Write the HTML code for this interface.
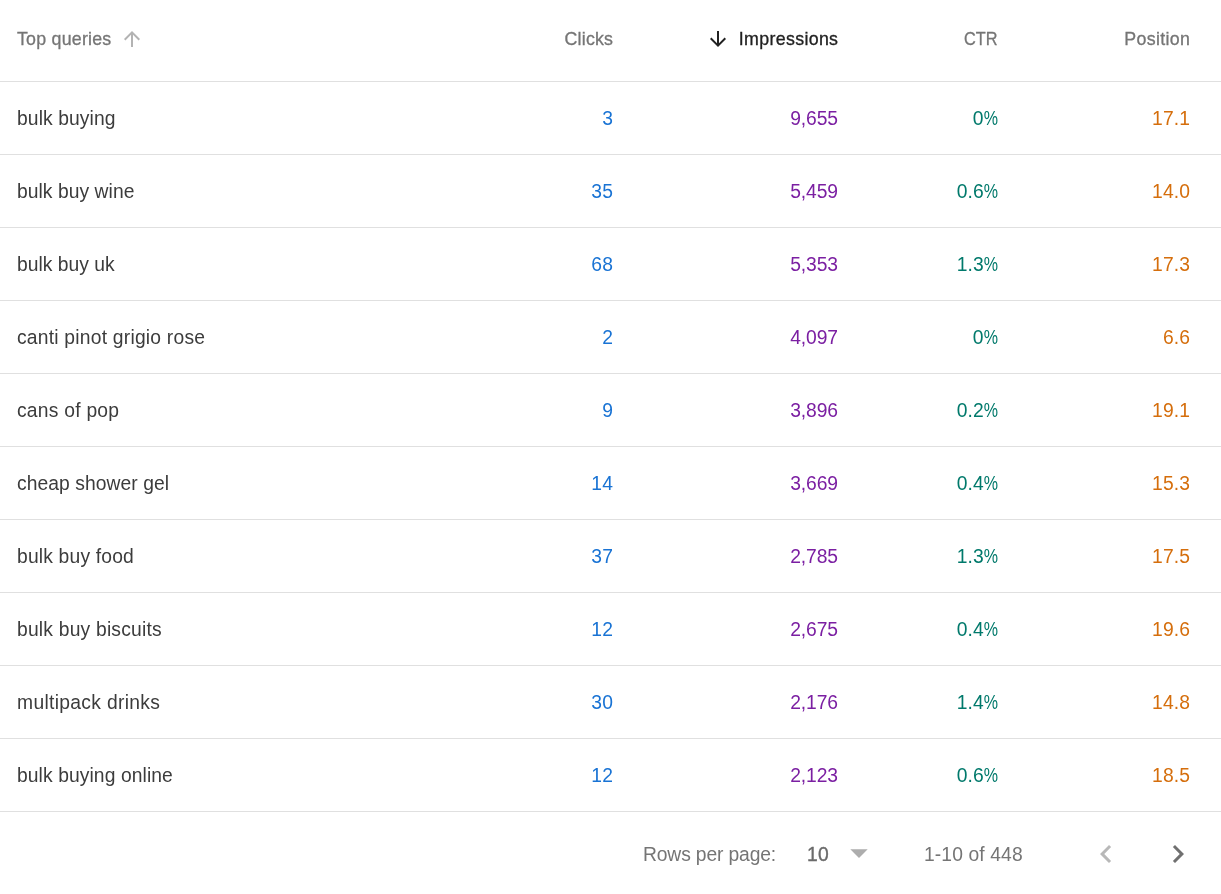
<!DOCTYPE html>
<html><head><meta charset="utf-8"><title>Top queries</title>
<style>
html,body{margin:0;padding:0;background:#fff;}
body{width:1221px;height:894px;overflow:hidden;position:relative;font-family:"Liberation Sans",sans-serif;}
.row{position:absolute;left:0;width:1221px;height:73px;border-bottom:1px solid #e0e0e0;box-sizing:border-box;}
.hdr{top:0;height:82px;}
.c{position:absolute;white-space:nowrap;line-height:24px;}
.q{left:17px;font-size:19.3px;color:#3c3c3c;top:25px;}
.n{font-size:19.3px;top:25px;text-align:right;}
.k{right:608px;color:#1973d4;}
.i{right:383px;color:#7b1fa2;}
.t{right:223px;color:#00796b;}
.p{right:31px;color:#d56e0c;}
.h{font-size:17.8px;color:#757575;top:27px;-webkit-text-stroke:0.3px currentColor;}
.foot{position:absolute;top:843px;font-size:19.3px;color:#757575;line-height:24px;white-space:nowrap;}
svg{position:absolute;}
.pc{display:inline-block;transform:scaleX(0.833);transform-origin:100% 50%;margin-left:-2.86px;}
</style></head><body>
<div class="row hdr">
 <div class="c h" style="left:17px;letter-spacing:0.229px;">Top queries</div>
 <svg style="left:120px;top:27px" width="24" height="24" viewBox="0 0 24 24"><path d="M4 12l1.41 1.41L11 7.83V20h2V7.83l5.58 5.59L20 12l-8-8-8 8z" fill="#b3b3b3"/></svg>
 <div class="c h" style="right:608px;letter-spacing:0.211px;margin-right:-0.211px;">Clicks</div>
 <svg style="left:706px;top:27px" width="24" height="24" viewBox="0 0 24 24"><path d="M20 12l-1.41-1.41L13 16.170V4h-2v12.170l-5.580-5.590L4 12l8 8 8-8z" fill="#212121"/></svg>
 <div class="c h" style="right:383px;color:#212121;letter-spacing:0.331px;margin-right:-0.331px;">Impressions</div>
 <div class="c h" style="right:223px;transform:scaleX(0.918);transform-origin:100% 50%;">CTR</div>
 <div class="c h" style="right:31px;letter-spacing:0.363px;margin-right:-0.363px;">Position</div>
</div>
<div class="row" style="top:82px"><div class="c q" style="letter-spacing:0.092px;">bulk buying</div><div class="c n k" style="letter-spacing:0.234px;margin-right:-0.234px;">3</div><div class="c n i" style="letter-spacing:-0.116px;margin-right:0.116px;">9,655</div><div class="c n t"><span style="letter-spacing:0.234px">0</span><span class="pc">%</span></div><div class="c n p" style="letter-spacing:0.125px;margin-right:-0.125px;">17.1</div></div>
<div class="row" style="top:155px"><div class="c q" style="letter-spacing:0.047px;">bulk buy wine</div><div class="c n k" style="letter-spacing:0.234px;margin-right:-0.234px;">35</div><div class="c n i" style="letter-spacing:-0.116px;margin-right:0.116px;">5,459</div><div class="c n t"><span style="letter-spacing:0.083px">0.6</span><span class="pc">%</span></div><div class="c n p" style="letter-spacing:0.125px;margin-right:-0.125px;">14.0</div></div>
<div class="row" style="top:228px"><div class="c q" style="letter-spacing:0.001px;">bulk buy uk</div><div class="c n k" style="letter-spacing:0.234px;margin-right:-0.234px;">68</div><div class="c n i" style="letter-spacing:-0.116px;margin-right:0.116px;">5,353</div><div class="c n t"><span style="letter-spacing:0.083px">1.3</span><span class="pc">%</span></div><div class="c n p" style="letter-spacing:0.125px;margin-right:-0.125px;">17.3</div></div>
<div class="row" style="top:301px"><div class="c q" style="letter-spacing:0.215px;">canti pinot grigio rose</div><div class="c n k" style="letter-spacing:0.234px;margin-right:-0.234px;">2</div><div class="c n i" style="letter-spacing:-0.116px;margin-right:0.116px;">4,097</div><div class="c n t"><span style="letter-spacing:0.234px">0</span><span class="pc">%</span></div><div class="c n p" style="letter-spacing:0.083px;margin-right:-0.083px;">6.6</div></div>
<div class="row" style="top:374px"><div class="c q" style="letter-spacing:0.232px;">cans of pop</div><div class="c n k" style="letter-spacing:0.234px;margin-right:-0.234px;">9</div><div class="c n i" style="letter-spacing:-0.116px;margin-right:0.116px;">3,896</div><div class="c n t"><span style="letter-spacing:0.083px">0.2</span><span class="pc">%</span></div><div class="c n p" style="letter-spacing:0.125px;margin-right:-0.125px;">19.1</div></div>
<div class="row" style="top:447px"><div class="c q" style="letter-spacing:0.059px;">cheap shower gel</div><div class="c n k" style="letter-spacing:0.234px;margin-right:-0.234px;">14</div><div class="c n i" style="letter-spacing:-0.116px;margin-right:0.116px;">3,669</div><div class="c n t"><span style="letter-spacing:0.083px">0.4</span><span class="pc">%</span></div><div class="c n p" style="letter-spacing:0.125px;margin-right:-0.125px;">15.3</div></div>
<div class="row" style="top:520px"><div class="c q" style="letter-spacing:0.173px;">bulk buy food</div><div class="c n k" style="letter-spacing:0.234px;margin-right:-0.234px;">37</div><div class="c n i" style="letter-spacing:-0.116px;margin-right:0.116px;">2,785</div><div class="c n t"><span style="letter-spacing:0.083px">1.3</span><span class="pc">%</span></div><div class="c n p" style="letter-spacing:0.125px;margin-right:-0.125px;">17.5</div></div>
<div class="row" style="top:593px"><div class="c q" style="letter-spacing:0.198px;">bulk buy biscuits</div><div class="c n k" style="letter-spacing:0.234px;margin-right:-0.234px;">12</div><div class="c n i" style="letter-spacing:-0.116px;margin-right:0.116px;">2,675</div><div class="c n t"><span style="letter-spacing:0.083px">0.4</span><span class="pc">%</span></div><div class="c n p" style="letter-spacing:0.125px;margin-right:-0.125px;">19.6</div></div>
<div class="row" style="top:666px"><div class="c q" style="letter-spacing:0.314px;">multipack drinks</div><div class="c n k" style="letter-spacing:0.234px;margin-right:-0.234px;">30</div><div class="c n i" style="letter-spacing:-0.116px;margin-right:0.116px;">2,176</div><div class="c n t"><span style="letter-spacing:0.083px">1.4</span><span class="pc">%</span></div><div class="c n p" style="letter-spacing:0.125px;margin-right:-0.125px;">14.8</div></div>
<div class="row" style="top:739px"><div class="c q" style="letter-spacing:0.083px;">bulk buying online</div><div class="c n k" style="letter-spacing:0.234px;margin-right:-0.234px;">12</div><div class="c n i" style="letter-spacing:-0.116px;margin-right:0.116px;">2,123</div><div class="c n t"><span style="letter-spacing:0.083px">0.6</span><span class="pc">%</span></div><div class="c n p" style="letter-spacing:0.125px;margin-right:-0.125px;">18.5</div></div>
<div class="foot" style="left:643px;letter-spacing:-0.146px;">Rows per page:</div>
<div class="foot" style="left:807px;top:843px;font-size:19.3px;color:#6b6b6b;-webkit-text-stroke:0.35px #6b6b6b;letter-spacing:0.359px;">10</div>
<svg style="left:841px;top:836px" width="36" height="36" viewBox="0 0 36 36"><path d="M9.300 13.200h17.400l-8.700 8.700z" fill="#adadad"/></svg>
<div class="foot" style="left:924px;letter-spacing:0.105px;">1-10 of 448</div>
<svg style="left:1088px;top:836px" width="36" height="36" viewBox="0 0 24 24"><path d="M15.410 7.410L14 6l-6 6 6 6 1.410-1.410L10.830 12z" fill="#b8b8b8"/></svg>
<svg style="left:1160px;top:836px" width="36" height="36" viewBox="0 0 24 24"><path d="M10 6L8.590 7.410 13.170 12l-4.580 4.590L10 18l6-6z" fill="#707070"/></svg>
</body></html>
